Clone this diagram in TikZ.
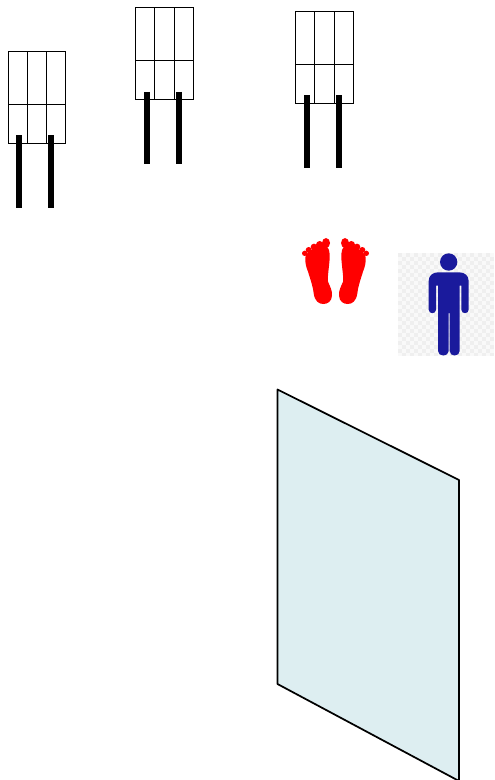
\documentclass[tikz,border=0pt]{standalone}
\definecolor{panel}{HTML}{DDEEF1}
\definecolor{manblue}{HTML}{1A1A9C}
\definecolor{footred}{HTML}{FF0000}
\definecolor{chk}{HTML}{EFEFEF}
\definecolor{chkbg}{HTML}{F9F9F9}
\tikzset{
  px/.style={x=0.75pt,y=-0.75pt},
  rackline/.style={draw=black,line width=0.75pt},
  rackleg/.style={line width=4.5pt,draw=black},
  panelshape/.style={fill=panel,draw=black,line width=1.3pt,line join=round},
  rack/.pic={
    \draw[rackline] (0,0) rectangle (57.5,92);
    \draw[rackline] (19,0) -- (19,92) (38.5,0) -- (38.5,92) (0,53) -- (57.5,53);
    \draw[rackleg] (11,84) -- (11,156.5) (43,84) -- (43,156.5);
  },
  foot/.pic={
    \fill[footred] (46,98) .. controls (46,78) and (85,62) .. (103,62)
      .. controls (117,62) and (120,82) .. (119,100)
      .. controls (117,130) and (112,155) .. (114,170)
      .. controls (120,185) and (127,195) .. (126,212)
      .. controls (125,230) and (112,237) .. (100,237)
      .. controls (86,237) and (74,228) .. (71,205)
      .. controls (68,180) and (60,160) .. (54,140)
      .. controls (48,125) and (45,112) .. (46,98) -- cycle;
    \fill[footred] (108,54) circle[x radius=12,y radius=15];
    \fill[footred] (89,59) circle[radius=11];
    \fill[footred] (72,66) circle[radius=10];
    \fill[footred] (56,75) circle[radius=9];
    \fill[footred] (44,85) circle[radius=8];
  },
}
\begin{document}
\begin{tikzpicture}[px]
\useasboundingbox (0,0) rectangle (494,780);
\pic at (8,51.5) {rack};
\pic at (135.5,8) {rack};
\pic at (295.5,11.5) {rack};
% feet
\begin{scope}[shift={(290,225)},x=0.25pt,y=-0.25pt]
  \pic at (0,0) {foot};
  \pic[xscale=-1] at (273,0) {foot};
\end{scope}
% person on a checked ground
\fill[chkbg] (398,253) rectangle (494,356);
\foreach \i in {0,...,23}{
  \foreach \j in {0,...,25}{
    \pgfmathparse{int(mod(\i+\j,2))}
    \ifnum\pgfmathresult=0
      \fill[chk] (398+4*\i,253+4*\j) rectangle ++(4,{min(4,103-4*\j)});
    \fi
  }
}
\begin{scope}[shift={(290,225)},x=0.25pt,y=-0.25pt]
  \fill[manblue] (476,111) circle[radius=26];
  \fill[manblue] (416,254)
    -- (416,168) .. controls (416,152) and (428,142) .. (444,142)
    -- (508,142) .. controls (524,142) and (536,152) .. (536,168)
    -- (536,254) .. controls (536,268) and (514,268) .. (514,254)
    -- (514,182) -- (509,182) -- (509,378)
    .. controls (509,396) and (479,396) .. (479,378)
    -- (479,264) -- (476,264) -- (476,378)
    .. controls (476,396) and (444,396) .. (444,378)
    -- (444,182) -- (438,182) -- (438,254)
    .. controls (438,268) and (416,268) .. (416,254) -- cycle;
\end{scope}
% glass panel
\begin{scope}
\clip (0,0) rectangle (494,780);
\draw[panelshape] (277.5,389.5) -- (459,480) -- (459,781) -- (277.5,684) -- cycle;
\end{scope}
\end{tikzpicture}
\end{document}
